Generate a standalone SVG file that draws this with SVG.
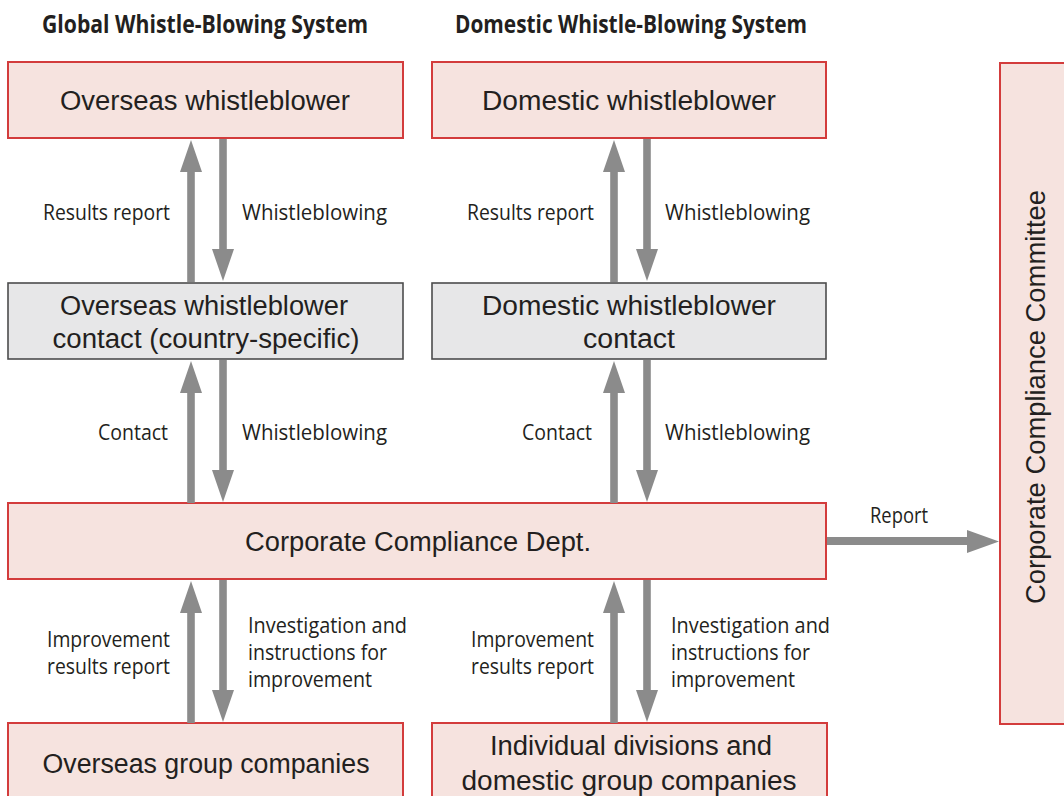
<svg xmlns="http://www.w3.org/2000/svg" width="1064" height="796" viewBox="0 0 1064 796">
<style>
.pink{fill:#f6e3df;stroke:#d33c3c;stroke-width:2}
.gray{fill:#e7e7e8;stroke:#4d4d4d;stroke-width:1.6}
.box{font-family:"Liberation Sans",Arial,sans-serif;font-size:27px;fill:#231f20;text-anchor:middle}
.lbl{font-family:"Open Sans","Liberation Sans",sans-serif;font-size:21px;fill:#231f20}
.hd{font-family:"Open Sans","Liberation Sans",sans-serif;font-size:25px;font-weight:bold;fill:#231f20}
.arr{fill:#8b8b8b}
</style>
<defs>
<path id="up" d="M-3.8,0 V-110 H-11 L0,-142 L11,-110 H3.8 V0 Z"/>
<path id="dn" d="M-3.8,0 V110 H-11 L0,142 L11,110 H3.8 V0 Z"/>
</defs>
<g id="headings">
<text class="hd" x="42" y="33" textLength="326" lengthAdjust="spacingAndGlyphs">Global Whistle-Blowing System</text>
<text class="hd" x="455" y="33" textLength="352" lengthAdjust="spacingAndGlyphs">Domestic Whistle-Blowing System</text>
</g>
<g id="overseas-whistleblower">
<rect class="pink" x="8" y="62" width="395" height="76"/>
<text class="box" x="205" y="110" textLength="290" lengthAdjust="spacingAndGlyphs">Overseas whistleblower</text>
</g>
<g id="domestic-whistleblower">
<rect class="pink" x="432" y="62" width="394" height="76"/>
<text class="box" x="629" y="110" textLength="294" lengthAdjust="spacingAndGlyphs">Domestic whistleblower</text>
</g>
<g id="overseas-contact">
<rect class="gray" x="8" y="283" width="395" height="76"/>
<text class="box" x="204" y="315" textLength="288" lengthAdjust="spacingAndGlyphs">Overseas whistleblower</text>
<text class="box" x="206" y="348" textLength="307" lengthAdjust="spacingAndGlyphs">contact (country-specific)</text>
</g>
<g id="domestic-contact">
<rect class="gray" x="432" y="283" width="394" height="76"/>
<text class="box" x="629" y="315" textLength="294" lengthAdjust="spacingAndGlyphs">Domestic whistleblower</text>
<text class="box" x="629" y="348" textLength="92" lengthAdjust="spacingAndGlyphs">contact</text>
</g>
<g id="compliance-dept">
<rect class="pink" x="8" y="503" width="818" height="76"/>
<text class="box" x="418" y="551" textLength="346" lengthAdjust="spacingAndGlyphs">Corporate Compliance Dept.</text>
</g>
<g id="overseas-group">
<rect class="pink" x="8" y="723" width="395" height="90"/>
<text class="box" x="206" y="773" textLength="327" lengthAdjust="spacingAndGlyphs">Overseas group companies</text>
</g>
<g id="domestic-group">
<rect class="pink" x="432" y="723" width="395" height="90"/>
<text class="box" x="631" y="755" textLength="282" lengthAdjust="spacingAndGlyphs">Individual divisions and</text>
<text class="box" x="629" y="790" textLength="335" lengthAdjust="spacingAndGlyphs">domestic group companies</text>
</g>
<g id="compliance-committee">
<rect class="pink" x="1000" y="63" width="90" height="661"/>
<text class="box" transform="translate(1045,397) rotate(-90)" x="0" y="0" textLength="414" lengthAdjust="spacingAndGlyphs">Corporate Compliance Committee</text>
</g>
<g id="connectors">
<use href="#up" class="arr" transform="translate(191,282)"/>
<use href="#dn" class="arr" transform="translate(223,139)"/>
<use href="#up" class="arr" transform="translate(614,282)"/>
<use href="#dn" class="arr" transform="translate(647,139)"/>
<use href="#up" class="arr" transform="translate(191,503)"/>
<use href="#dn" class="arr" transform="translate(223,360)"/>
<use href="#up" class="arr" transform="translate(614,503)"/>
<use href="#dn" class="arr" transform="translate(647,360)"/>
<use href="#up" class="arr" transform="translate(191,723)"/>
<use href="#dn" class="arr" transform="translate(223,580)"/>
<use href="#up" class="arr" transform="translate(614,723)"/>
<use href="#dn" class="arr" transform="translate(647,580)"/>
<path class="arr" d="M827,537 H967 V530 L999,541.5 L967,553 V545 H827 Z"/>
<text class="lbl" x="43" y="220" textLength="127" lengthAdjust="spacingAndGlyphs">Results report</text>
<text class="lbl" x="242" y="220" textLength="145" lengthAdjust="spacingAndGlyphs">Whistleblowing</text>
<text class="lbl" x="467" y="220" textLength="127" lengthAdjust="spacingAndGlyphs">Results report</text>
<text class="lbl" x="665" y="220" textLength="145" lengthAdjust="spacingAndGlyphs">Whistleblowing</text>
<text class="lbl" x="98" y="440" textLength="70" lengthAdjust="spacingAndGlyphs">Contact</text>
<text class="lbl" x="242" y="440" textLength="145" lengthAdjust="spacingAndGlyphs">Whistleblowing</text>
<text class="lbl" x="522" y="440" textLength="70" lengthAdjust="spacingAndGlyphs">Contact</text>
<text class="lbl" x="665" y="440" textLength="145" lengthAdjust="spacingAndGlyphs">Whistleblowing</text>
<text class="lbl" x="870" y="523" textLength="58" lengthAdjust="spacingAndGlyphs">Report</text>
<text class="lbl" x="47" y="647" textLength="123" lengthAdjust="spacingAndGlyphs">Improvement</text>
<text class="lbl" x="47" y="674" textLength="123" lengthAdjust="spacingAndGlyphs">results report</text>
<text class="lbl" x="248" y="633" textLength="159" lengthAdjust="spacingAndGlyphs">Investigation and</text>
<text class="lbl" x="248" y="660" textLength="139" lengthAdjust="spacingAndGlyphs">instructions for</text>
<text class="lbl" x="248" y="687" textLength="124" lengthAdjust="spacingAndGlyphs">improvement</text>
<text class="lbl" x="471" y="647" textLength="123" lengthAdjust="spacingAndGlyphs">Improvement</text>
<text class="lbl" x="471" y="674" textLength="123" lengthAdjust="spacingAndGlyphs">results report</text>
<text class="lbl" x="671" y="633" textLength="159" lengthAdjust="spacingAndGlyphs">Investigation and</text>
<text class="lbl" x="671" y="660" textLength="139" lengthAdjust="spacingAndGlyphs">instructions for</text>
<text class="lbl" x="671" y="687" textLength="124" lengthAdjust="spacingAndGlyphs">improvement</text>
</g>
</svg>
